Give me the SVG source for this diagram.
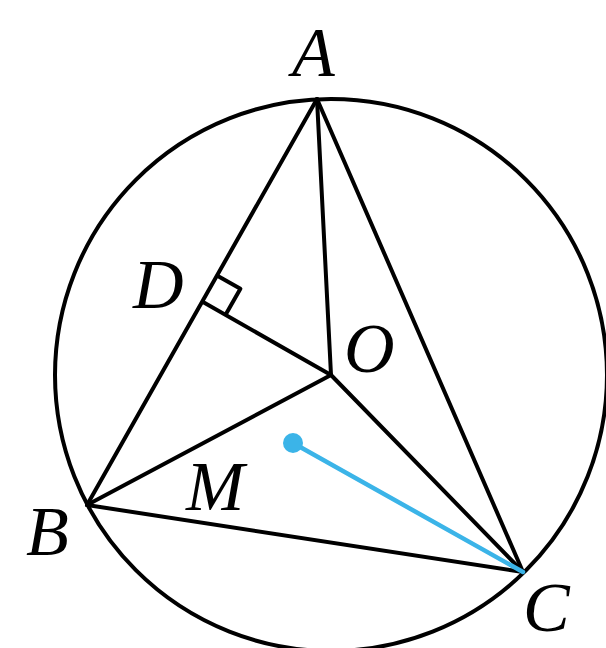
<svg xmlns="http://www.w3.org/2000/svg" width="606" height="648" viewBox="0 0 606 648">
<style>
.ln{stroke:#000;stroke-width:4;fill:none;stroke-linecap:round;stroke-linejoin:round}
.lb{font-family:"Liberation Serif","Times New Roman",serif;font-style:italic;font-size:70px;fill:#000}
.bl{stroke:#3BB4E8;stroke-width:4.5;fill:none;stroke-linecap:round}
</style>
<rect width="606" height="648" fill="#fff"/>
<g id="circle"><circle class="ln" cx="331" cy="375" r="276"/></g>
<g id="connectors">
<line class="ln" x1="317" y1="99" x2="87" y2="505"/>
<line class="ln" x1="317" y1="99" x2="523" y2="572"/>
<line class="ln" x1="317" y1="99" x2="331" y2="375"/>
<line class="ln" x1="87" y1="505" x2="331" y2="375"/>
<line class="ln" x1="523" y1="572" x2="331" y2="375"/>
<line class="ln" x1="87" y1="505" x2="523" y2="572"/>
<line class="ln" x1="203" y1="302" x2="331" y2="375"/>
<polyline class="ln" points="217.8,276 240.4,288.8 226,314"/>
<line class="bl" x1="293" y1="443" x2="523" y2="572"/>
</g>
<g id="A"><text class="lb" x="292" y="76">A</text></g>
<g id="B"><text class="lb" x="26" y="555">B</text></g>
<g id="C"><text class="lb" x="523" y="631">C</text></g>
<g id="D"><text class="lb" x="133" y="308">D</text></g>
<g id="O"><text class="lb" x="344" y="372">O</text></g>
<g id="M"><text class="lb" x="186" y="510">M</text></g>
<g id="Mdot"><circle cx="293" cy="443" r="10" fill="#3BB4E8"/></g>
</svg>
